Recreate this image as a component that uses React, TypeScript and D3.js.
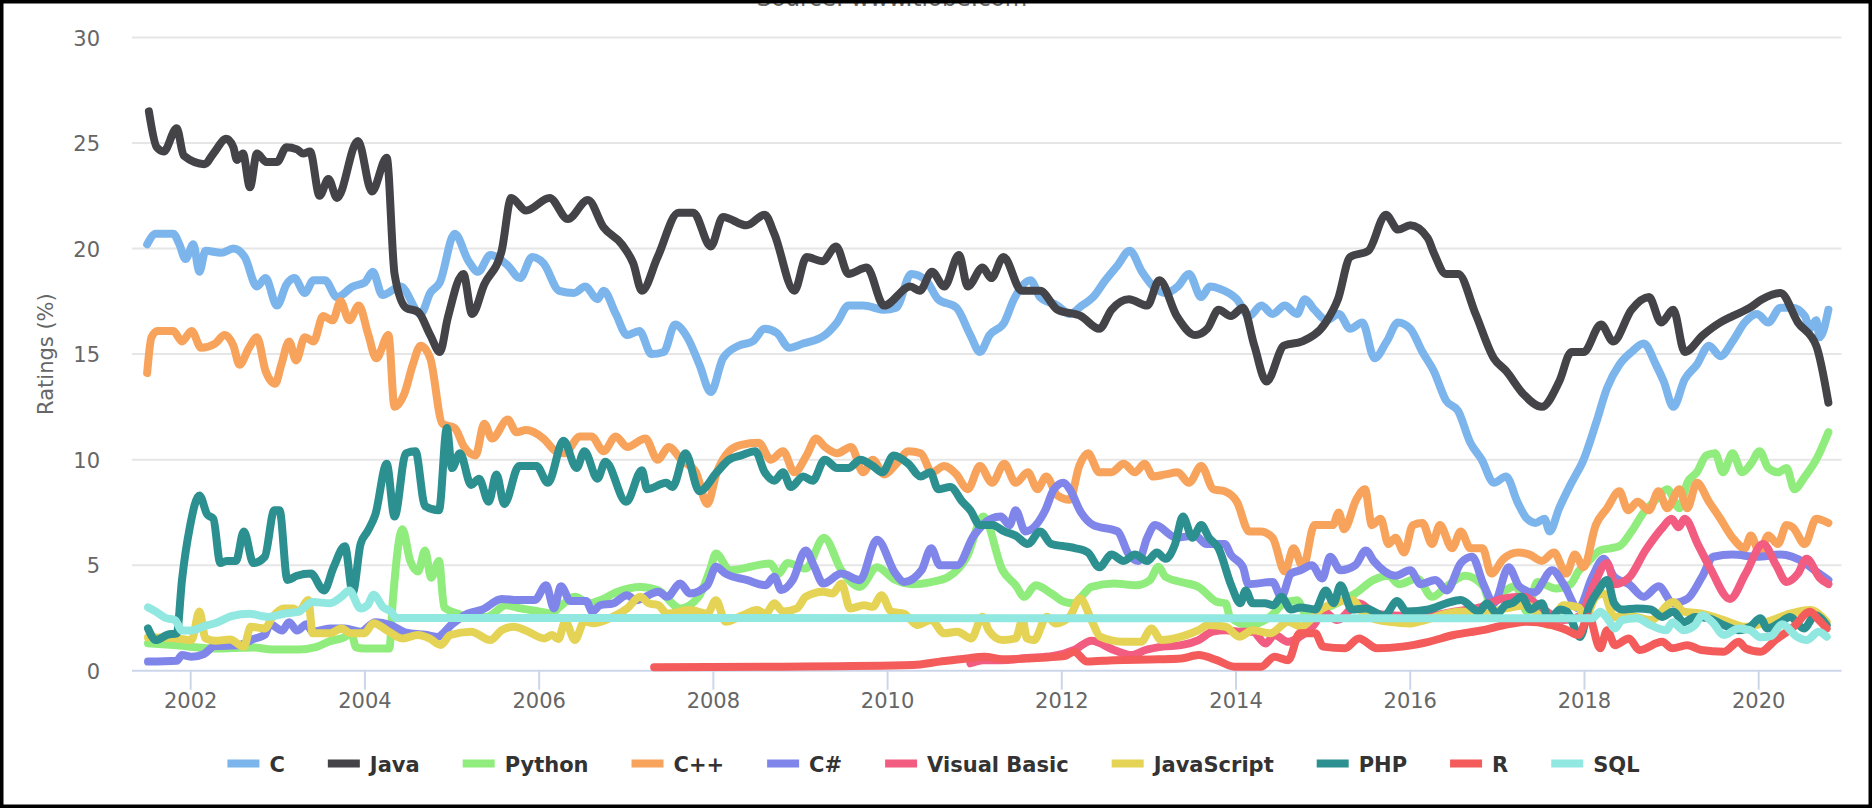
import * as d3 from 'd3';

type Pt = [number, number];

const WIDTH = 1872;
const HEIGHT = 808;

const seriesNames = ['C', 'Java', 'Python', 'C++', 'C#', 'Visual Basic', 'JavaScript', 'PHP', 'R', 'SQL'];
const seriesColors = ['#7cb5ec', '#434348', '#90ed7d', '#f7a35c', '#8085e9', '#f15c80', '#e4d354', '#2b908f', '#f45b5b', '#91e8e1'];
const yTicks = [0, 5, 10, 15, 20, 25, 30];
const xTicks = [2002, 2004, 2006, 2008, 2010, 2012, 2014, 2016, 2018, 2020];

// [year, rating %]
const cData: Pt[] = [
  [2001.5, 20.2], [2001.6, 20.7], [2001.8, 20.7], [2001.87, 20.2], [2001.94, 19.5], [2002.03, 20.2], [2002.1, 18.9], [2002.17, 19.9],
  [2002.35, 19.8], [2002.49, 20.0], [2002.62, 19.6], [2002.76, 18.2], [2002.86, 18.6], [2002.99, 17.3], [2003.1, 18.3], [2003.19, 18.6],
  [2003.31, 17.9], [2003.41, 18.5], [2003.54, 18.5], [2003.68, 17.7], [2003.86, 18.2], [2004.0, 18.4], [2004.09, 18.9], [2004.2, 17.8],
  [2004.41, 18.2], [2004.64, 16.9], [2004.75, 17.9], [2004.86, 18.4], [2005.03, 20.7], [2005.19, 19.4], [2005.3, 18.9], [2005.44, 19.7],
  [2005.64, 19.2], [2005.78, 18.6], [2005.92, 19.6], [2006.05, 19.3], [2006.23, 18.0], [2006.4, 17.9], [2006.53, 18.2], [2006.67, 17.6],
  [2006.74, 18.0], [2006.88, 16.9], [2007.01, 15.9], [2007.15, 16.1], [2007.29, 15.0], [2007.43, 15.1], [2007.56, 16.4], [2007.7, 15.8],
  [2007.84, 14.5], [2007.97, 13.2], [2008.11, 14.8], [2008.29, 15.4], [2008.45, 15.6], [2008.59, 16.2], [2008.73, 16.0], [2008.87, 15.3],
  [2009.03, 15.5], [2009.28, 15.9], [2009.42, 16.5], [2009.55, 17.3], [2009.72, 17.3], [2009.96, 17.1], [2010.1, 17.2], [2010.27, 18.8],
  [2010.44, 18.5], [2010.58, 17.6], [2010.79, 17.2], [2010.95, 15.9], [2011.06, 15.1], [2011.17, 15.9], [2011.34, 16.5], [2011.45, 17.6],
  [2011.64, 18.5], [2011.75, 17.7], [2011.95, 17.3], [2012.09, 16.9], [2012.23, 17.3], [2012.36, 17.7], [2012.5, 18.5], [2012.64, 19.2],
  [2012.78, 19.9], [2012.92, 18.9], [2013.05, 18.2], [2013.19, 17.9], [2013.33, 18.2], [2013.46, 18.8], [2013.6, 17.7], [2013.7, 18.2],
  [2013.81, 18.1], [2014.01, 17.6], [2014.15, 16.8], [2014.29, 17.3], [2014.42, 16.9], [2014.56, 17.3], [2014.7, 16.9], [2014.79, 17.6],
  [2014.9, 17.1], [2015.04, 16.6], [2015.18, 16.9], [2015.31, 16.2], [2015.45, 16.5], [2015.59, 14.8], [2015.73, 15.6], [2015.86, 16.5],
  [2016.0, 16.2], [2016.14, 15.1], [2016.27, 14.2], [2016.41, 12.8], [2016.55, 12.3], [2016.69, 10.8], [2016.82, 10.0], [2016.96, 8.9],
  [2017.1, 9.2], [2017.23, 8.0], [2017.34, 7.2], [2017.44, 7.0], [2017.54, 7.2], [2017.6, 6.6], [2017.71, 7.7], [2017.85, 8.9],
  [2017.99, 10.0], [2018.13, 11.7], [2018.26, 13.4], [2018.4, 14.5], [2018.54, 15.1], [2018.68, 15.5], [2018.82, 14.5], [2018.91, 13.7],
  [2019.02, 12.5], [2019.15, 13.8], [2019.29, 14.5], [2019.43, 15.4], [2019.56, 14.9], [2019.7, 15.6], [2019.84, 16.5], [2019.98, 16.9],
  [2020.11, 16.5], [2020.25, 17.2], [2020.39, 17.2], [2020.53, 16.8], [2020.59, 16.2], [2020.66, 16.6], [2020.7, 15.8], [2020.8, 17.1],
];

const javaData: Pt[] = [
  [2001.52, 26.5], [2001.61, 24.8], [2001.69, 24.6], [2001.84, 25.7], [2001.92, 24.4], [2002.16, 24.0], [2002.26, 24.5], [2002.41, 25.2],
  [2002.49, 24.8], [2002.53, 24.2], [2002.6, 24.5], [2002.68, 22.9], [2002.76, 24.5], [2002.87, 24.1], [2002.99, 24.1], [2003.1, 24.8],
  [2003.22, 24.7], [2003.29, 24.5], [2003.37, 24.6], [2003.48, 22.5], [2003.58, 23.3], [2003.68, 22.4], [2003.92, 25.1], [2004.08, 22.7],
  [2004.25, 24.3], [2004.34, 18.8], [2004.47, 17.2], [2004.61, 17.0], [2004.75, 15.9], [2004.86, 15.1], [2004.95, 16.7], [2005.13, 18.8],
  [2005.23, 16.9], [2005.37, 18.3], [2005.57, 19.9], [2005.68, 22.4], [2005.85, 21.8], [2006.12, 22.4], [2006.33, 21.4], [2006.56, 22.3],
  [2006.74, 21.0], [2006.95, 20.2], [2007.08, 19.3], [2007.18, 18.0], [2007.36, 19.6], [2007.6, 21.7], [2007.77, 21.7], [2007.97, 20.1],
  [2008.11, 21.5], [2008.38, 21.1], [2008.59, 21.6], [2008.7, 20.7], [2008.93, 18.0], [2009.07, 19.6], [2009.25, 19.4], [2009.41, 20.1],
  [2009.55, 18.8], [2009.76, 19.1], [2009.96, 17.3], [2010.26, 18.2], [2010.37, 18.0], [2010.51, 18.9], [2010.65, 18.2], [2010.82, 19.7],
  [2010.92, 18.2], [2011.09, 19.1], [2011.19, 18.6], [2011.33, 19.6], [2011.54, 18.0], [2011.75, 18.0], [2011.95, 17.1], [2012.22, 16.8],
  [2012.43, 16.2], [2012.57, 17.1], [2012.77, 17.6], [2012.98, 17.3], [2013.12, 18.5], [2013.32, 16.8], [2013.53, 15.9], [2013.67, 16.2],
  [2013.8, 17.1], [2013.94, 16.8], [2014.08, 17.2], [2014.21, 15.4], [2014.35, 13.7], [2014.55, 15.4], [2014.76, 15.6], [2015.03, 16.5],
  [2015.17, 17.6], [2015.31, 19.6], [2015.52, 19.9], [2015.72, 21.6], [2015.86, 20.9], [2016.0, 21.1], [2016.2, 20.5], [2016.27, 19.8],
  [2016.41, 18.8], [2016.55, 18.8], [2016.75, 16.9], [2016.96, 14.8], [2017.1, 14.2], [2017.3, 13.1], [2017.51, 12.5], [2017.71, 13.7],
  [2017.85, 15.1], [2017.99, 15.1], [2018.19, 16.4], [2018.33, 15.6], [2018.54, 17.1], [2018.74, 17.7], [2018.88, 16.5], [2019.02, 17.1],
  [2019.15, 15.1], [2019.36, 15.9], [2019.56, 16.5], [2019.7, 16.8], [2019.9, 17.2], [2020.04, 17.6], [2020.25, 17.9], [2020.45, 16.5],
  [2020.66, 15.4], [2020.8, 12.7],
];

const pythonData: Pt[] = [
  [2001.51, 1.3], [2001.84, 1.2], [2002.28, 1.05], [2002.72, 1.1], [2002.94, 1.0], [2003.24, 1.0], [2003.42, 1.1], [2003.6, 1.4],
  [2003.77, 1.6], [2003.84, 1.8], [2003.9, 1.1], [2003.99, 1.05], [2004.28, 1.05], [2004.32, 3.3], [2004.43, 6.7], [2004.52, 5.2],
  [2004.61, 4.7], [2004.69, 5.7], [2004.76, 4.4], [2004.85, 5.2], [2004.91, 3.0], [2005.07, 2.7], [2005.18, 2.55], [2005.4, 2.55],
  [2005.62, 3.1], [2005.79, 2.95], [2006.01, 2.8], [2006.14, 2.7], [2006.23, 3.0], [2006.41, 3.5], [2006.58, 3.2], [2006.7, 3.34],
  [2006.9, 3.74], [2007.16, 3.97], [2007.37, 3.8], [2007.62, 2.95], [2007.83, 3.5], [2007.96, 4.76], [2008.03, 5.55], [2008.19, 4.76],
  [2008.65, 5.08], [2008.75, 4.6], [2008.85, 5.1], [2009.06, 4.84], [2009.27, 6.3], [2009.47, 4.76], [2009.68, 3.97], [2009.88, 4.9],
  [2010.09, 4.3], [2010.29, 4.1], [2010.5, 4.2], [2010.7, 4.45], [2010.91, 5.4], [2011.1, 7.3], [2011.32, 4.76], [2011.47, 4.05],
  [2011.57, 3.5], [2011.7, 4.05], [2011.88, 3.66], [2012.03, 3.26], [2012.14, 3.19], [2012.24, 3.58], [2012.34, 3.97], [2012.6, 4.13],
  [2012.85, 4.05], [2013.01, 4.29], [2013.11, 4.92], [2013.19, 4.45], [2013.37, 4.2], [2013.57, 3.97], [2013.78, 3.26], [2013.88, 3.19],
  [2013.93, 2.56], [2014.14, 2.16], [2014.39, 2.56], [2014.55, 3.19], [2014.7, 3.34], [2014.82, 2.55], [2015.0, 2.9], [2015.37, 3.66],
  [2015.58, 4.3], [2015.75, 4.5], [2015.87, 4.1], [2016.08, 4.37], [2016.25, 3.5], [2016.42, 4.0], [2016.63, 4.5], [2016.84, 4.0],
  [2016.92, 3.2], [2017.09, 3.8], [2017.21, 4.0], [2017.34, 2.8], [2017.46, 4.2], [2017.67, 3.9], [2017.84, 4.1], [2017.93, 4.7],
  [2018.05, 5.2], [2018.18, 5.7], [2018.3, 5.8], [2018.4, 5.9], [2018.54, 6.6], [2018.68, 7.5], [2018.82, 8.1], [2018.95, 8.6],
  [2019.09, 7.7], [2019.18, 8.9], [2019.29, 9.4], [2019.4, 10.2], [2019.5, 10.3], [2019.59, 9.4], [2019.7, 10.3], [2019.81, 9.4],
  [2019.91, 9.8], [2020.01, 10.4], [2020.11, 9.6], [2020.22, 9.4], [2020.32, 9.6], [2020.41, 8.6], [2020.53, 9.2], [2020.66, 10.0],
  [2020.8, 11.3],
];

const cppData: Pt[] = [
  [2001.5, 14.1], [2001.55, 15.8], [2001.62, 16.1], [2001.8, 16.1], [2001.9, 15.6], [2002.01, 16.1], [2002.12, 15.3], [2002.28, 15.5],
  [2002.39, 15.9], [2002.49, 15.4], [2002.56, 14.5], [2002.67, 15.3], [2002.76, 15.8], [2002.86, 14.2], [2002.97, 13.6], [2003.04, 14.5],
  [2003.13, 15.6], [2003.21, 14.7], [2003.31, 15.8], [2003.41, 15.6], [2003.52, 16.8], [2003.63, 16.6], [2003.72, 17.5], [2003.82, 16.6],
  [2003.93, 17.3], [2004.04, 15.9], [2004.13, 14.8], [2004.27, 15.9], [2004.34, 12.5], [2004.45, 13.1], [2004.55, 14.5], [2004.64, 15.4],
  [2004.75, 14.8], [2004.89, 11.7], [2005.03, 11.5], [2005.14, 10.6], [2005.27, 10.2], [2005.37, 11.7], [2005.46, 11.0], [2005.64, 11.9],
  [2005.74, 11.3], [2005.85, 11.4], [2006.05, 11.0], [2006.19, 10.4], [2006.29, 10.3], [2006.47, 11.1], [2006.6, 11.1], [2006.74, 10.4],
  [2006.88, 11.1], [2007.01, 10.6], [2007.22, 11.0], [2007.36, 10.0], [2007.49, 10.6], [2007.63, 10.0], [2007.8, 9.4], [2007.93, 7.9],
  [2008.04, 9.4], [2008.18, 10.4], [2008.32, 10.7], [2008.52, 10.8], [2008.66, 10.0], [2008.8, 10.4], [2008.93, 9.4], [2009.07, 10.2],
  [2009.18, 11.0], [2009.28, 10.6], [2009.42, 10.3], [2009.58, 10.6], [2009.72, 9.4], [2009.83, 10.0], [2009.96, 9.3], [2010.1, 9.8],
  [2010.24, 10.4], [2010.38, 10.3], [2010.51, 9.4], [2010.65, 9.7], [2010.79, 9.3], [2010.92, 8.6], [2011.06, 9.7], [2011.2, 8.9],
  [2011.34, 9.8], [2011.47, 8.9], [2011.61, 9.4], [2011.72, 8.6], [2011.82, 9.2], [2011.95, 8.3], [2012.09, 8.1], [2012.2, 9.7],
  [2012.3, 10.3], [2012.43, 9.4], [2012.57, 9.4], [2012.71, 9.8], [2012.84, 9.4], [2012.95, 9.8], [2013.05, 9.2], [2013.19, 9.3],
  [2013.33, 9.4], [2013.46, 8.9], [2013.6, 9.7], [2013.74, 8.6], [2013.87, 8.5], [2014.01, 8.0], [2014.15, 6.6], [2014.28, 6.6],
  [2014.42, 6.3], [2014.56, 4.7], [2014.66, 5.8], [2014.77, 4.9], [2014.9, 6.9], [2015.11, 6.9], [2015.18, 7.5], [2015.24, 6.7],
  [2015.38, 8.1], [2015.48, 8.6], [2015.56, 6.9], [2015.66, 7.2], [2015.75, 6.0], [2015.83, 6.3], [2015.93, 5.6], [2016.03, 6.9],
  [2016.14, 7.0], [2016.25, 6.0], [2016.34, 6.9], [2016.48, 5.8], [2016.58, 6.6], [2016.69, 5.8], [2016.83, 5.8], [2016.93, 4.6],
  [2017.07, 5.3], [2017.24, 5.6], [2017.37, 5.5], [2017.51, 5.2], [2017.65, 5.6], [2017.79, 4.6], [2017.89, 5.5], [2017.99, 4.9],
  [2018.13, 6.9], [2018.26, 7.7], [2018.4, 8.5], [2018.5, 7.6], [2018.61, 8.0], [2018.74, 7.6], [2018.85, 8.5], [2018.95, 7.7],
  [2019.09, 8.6], [2019.18, 7.7], [2019.29, 8.9], [2019.43, 8.0], [2019.56, 7.2], [2019.7, 6.3], [2019.84, 5.8], [2019.91, 6.4],
  [2020.01, 5.6], [2020.11, 6.4], [2020.22, 6.0], [2020.32, 6.9], [2020.39, 6.8], [2020.53, 6.0], [2020.66, 7.2], [2020.8, 7.0],
];

const csharpData: Pt[] = [
  [2001.51, 0.43], [2001.84, 0.47], [2001.9, 0.74], [2002.01, 0.66], [2002.15, 0.79], [2002.28, 1.17], [2002.54, 1.2], [2002.72, 1.5],
  [2002.85, 1.7], [2002.91, 2.2], [2003.05, 1.9], [2003.13, 2.3], [2003.22, 1.9], [2003.33, 2.2], [2003.4, 1.85], [2003.6, 2.0],
  [2003.77, 2.0], [2003.95, 1.85], [2004.12, 2.3], [2004.3, 2.15], [2004.47, 1.8], [2004.69, 1.7], [2004.83, 1.6], [2005.0, 2.2],
  [2005.18, 2.7], [2005.35, 2.9], [2005.57, 3.4], [2005.75, 3.35], [2005.95, 3.35], [2006.08, 4.05], [2006.17, 2.95], [2006.25, 4.0],
  [2006.36, 3.3], [2006.54, 3.3], [2006.61, 2.8], [2006.7, 3.1], [2006.85, 3.19], [2007.01, 3.58], [2007.11, 3.34], [2007.37, 3.74],
  [2007.47, 3.5], [2007.62, 4.13], [2007.73, 3.66], [2007.93, 4.05], [2008.03, 4.92], [2008.14, 4.6], [2008.39, 4.29], [2008.6, 4.05],
  [2008.7, 4.45], [2008.78, 3.82], [2008.91, 4.29], [2009.06, 5.7], [2009.16, 4.92], [2009.26, 4.13], [2009.47, 4.6], [2009.68, 4.29],
  [2009.88, 6.2], [2010.09, 4.6], [2010.19, 4.2], [2010.39, 4.76], [2010.5, 5.8], [2010.6, 5.0], [2010.8, 5.0], [2010.99, 6.4],
  [2011.19, 7.2], [2011.3, 7.3], [2011.4, 6.9], [2011.47, 7.6], [2011.58, 6.6], [2011.81, 7.6], [2011.91, 8.6], [2012.02, 8.9],
  [2012.09, 8.6], [2012.22, 7.5], [2012.36, 6.9], [2012.64, 6.6], [2012.77, 5.5], [2012.88, 5.2], [2012.98, 6.3], [2013.07, 6.9],
  [2013.32, 6.3], [2013.53, 6.4], [2013.66, 6.0], [2013.87, 6.0], [2013.94, 5.5], [2014.08, 4.9], [2014.14, 4.1], [2014.42, 4.2],
  [2014.52, 3.5], [2014.63, 4.6], [2014.74, 4.76], [2014.87, 5.0], [2014.99, 4.37], [2015.08, 5.4], [2015.2, 4.76], [2015.37, 5.0],
  [2015.49, 5.7], [2015.58, 5.2], [2015.83, 4.5], [2016.0, 4.76], [2016.12, 4.1], [2016.29, 4.3], [2016.42, 3.8], [2016.58, 5.1],
  [2016.71, 5.4], [2016.84, 4.1], [2016.96, 3.2], [2017.13, 4.9], [2017.25, 4.0], [2017.42, 3.7], [2017.63, 4.76], [2017.76, 4.1],
  [2017.93, 2.95], [2018.09, 4.45], [2018.22, 5.3], [2018.34, 4.45], [2018.51, 4.1], [2018.68, 3.5], [2018.85, 4.0], [2019.02, 3.2],
  [2019.18, 3.4], [2019.35, 4.45], [2019.48, 5.4], [2019.7, 5.5], [2019.98, 5.4], [2020.25, 5.5], [2020.53, 5.1], [2020.66, 4.7],
  [2020.8, 4.3],
];

const vbData: Pt[] = [
  [2010.95, 0.35], [2011.1, 0.5], [2011.3, 0.5], [2011.6, 0.6], [2011.9, 0.7], [2012.15, 1.0], [2012.34, 1.42], [2012.6, 0.98],
  [2012.8, 0.74], [2012.96, 0.98], [2013.16, 1.14], [2013.37, 1.21], [2013.57, 1.45], [2013.73, 1.85], [2013.88, 1.92], [2014.04, 1.85],
  [2014.19, 1.85], [2014.34, 1.29], [2014.44, 1.69], [2014.6, 1.37], [2014.73, 1.6], [2014.9, 2.2], [2015.0, 2.8], [2015.16, 2.4],
  [2015.41, 3.2], [2015.6, 2.7], [2015.9, 2.6], [2016.2, 2.6], [2016.5, 2.8], [2016.8, 3.0], [2017.05, 3.4], [2017.3, 3.5],
  [2017.5, 3.0], [2017.75, 2.4], [2017.95, 2.6], [2018.1, 4.0], [2018.26, 5.1], [2018.35, 4.1], [2018.51, 4.4], [2018.7, 5.7],
  [2018.9, 6.8], [2019.0, 7.2], [2019.08, 6.8], [2019.15, 7.2], [2019.3, 6.0], [2019.45, 4.8], [2019.67, 3.4], [2019.85, 4.6],
  [2020.05, 6.0], [2020.2, 5.0], [2020.32, 4.2], [2020.45, 4.6], [2020.55, 5.3], [2020.7, 4.4], [2020.8, 4.1],
];

const jsData: Pt[] = [
  [2001.51, 1.58], [2001.84, 1.53], [2002.01, 1.45], [2002.1, 2.8], [2002.17, 1.53], [2002.28, 1.42], [2002.45, 1.48], [2002.61, 1.14],
  [2002.69, 2.08], [2002.85, 2.0], [2002.94, 2.55], [2003.07, 2.95], [2003.18, 2.95], [2003.24, 2.8], [2003.35, 3.35], [2003.4, 1.77],
  [2003.6, 1.77], [2003.73, 2.0], [2003.84, 1.77], [2003.99, 1.77], [2004.1, 2.25], [2004.25, 1.92], [2004.43, 1.53], [2004.61, 1.69],
  [2004.74, 1.53], [2004.87, 1.22], [2004.98, 1.69], [2005.22, 1.85], [2005.44, 1.45], [2005.57, 1.92], [2005.71, 2.08], [2005.84, 1.92],
  [2006.06, 1.53], [2006.15, 1.69], [2006.22, 1.5], [2006.3, 2.33], [2006.41, 1.45], [2006.52, 2.33], [2006.63, 2.25], [2006.85, 2.56],
  [2007.01, 2.95], [2007.16, 3.5], [2007.26, 3.19], [2007.37, 3.1], [2007.47, 2.7], [2007.73, 2.87], [2007.93, 2.7], [2008.03, 3.34],
  [2008.14, 2.32], [2008.34, 2.63], [2008.5, 2.87], [2008.6, 2.7], [2008.7, 3.19], [2008.8, 2.8], [2008.96, 2.95], [2009.06, 3.5],
  [2009.26, 3.74], [2009.37, 3.66], [2009.47, 4.13], [2009.57, 2.95], [2009.73, 3.1], [2009.83, 3.03], [2009.93, 3.58], [2010.04, 2.8],
  [2010.19, 2.7], [2010.34, 2.16], [2010.5, 2.4], [2010.65, 1.77], [2010.8, 1.85], [2010.96, 1.53], [2011.09, 2.56], [2011.16, 1.92],
  [2011.32, 1.45], [2011.47, 1.53], [2011.55, 2.4], [2011.6, 1.53], [2011.68, 1.45], [2011.83, 2.56], [2011.93, 2.24], [2012.09, 2.56],
  [2012.21, 3.42], [2012.34, 2.4], [2012.44, 1.61], [2012.7, 1.37], [2012.91, 1.37], [2013.03, 2.0], [2013.14, 1.45], [2013.37, 1.61],
  [2013.57, 1.92], [2013.68, 2.16], [2013.88, 2.08], [2014.04, 1.61], [2014.19, 1.92], [2014.39, 1.77], [2014.6, 2.32], [2014.74, 2.1],
  [2014.99, 2.95], [2015.33, 3.35], [2015.49, 2.6], [2015.79, 2.3], [2016.0, 2.24], [2016.17, 2.4], [2016.42, 2.7], [2016.58, 2.8],
  [2016.84, 2.7], [2017.09, 2.95], [2017.34, 3.1], [2017.59, 2.16], [2017.76, 3.1], [2017.93, 3.0], [2018.01, 2.55], [2018.13, 3.5],
  [2018.22, 3.66], [2018.34, 2.55], [2018.51, 2.6], [2018.76, 2.4], [2019.02, 3.26], [2019.14, 2.8], [2019.35, 2.7], [2019.6, 2.4],
  [2019.85, 2.08], [2020.1, 2.32], [2020.36, 2.7], [2020.59, 2.87], [2020.78, 2.32],
];

const phpData: Pt[] = [
  [2001.51, 2.0], [2001.6, 1.45], [2001.73, 1.7], [2001.84, 1.77], [2001.9, 4.3], [2001.99, 6.8], [2002.1, 8.3], [2002.19, 7.4],
  [2002.26, 7.2], [2002.34, 5.1], [2002.41, 5.2], [2002.52, 5.2], [2002.61, 6.6], [2002.72, 5.1], [2002.85, 5.4], [2002.96, 7.6],
  [2003.02, 7.6], [2003.11, 4.3], [2003.22, 4.5], [2003.38, 4.6], [2003.53, 3.8], [2003.64, 4.9], [2003.77, 5.9], [2003.86, 3.7],
  [2003.95, 6.0], [2004.03, 6.6], [2004.12, 7.4], [2004.25, 9.8], [2004.34, 7.3], [2004.47, 10.3], [2004.58, 10.4], [2004.69, 7.8],
  [2004.85, 7.6], [2004.94, 11.5], [2005.0, 9.6], [2005.09, 10.3], [2005.22, 8.8], [2005.31, 9.1], [2005.42, 8.0], [2005.51, 9.3],
  [2005.6, 7.9], [2005.77, 9.7], [2005.97, 9.7], [2006.1, 8.9], [2006.28, 10.9], [2006.43, 9.6], [2006.52, 10.4], [2006.67, 9.1],
  [2006.76, 9.9], [2007.0, 8.0], [2007.18, 9.5], [2007.24, 8.6], [2007.46, 8.9], [2007.53, 8.7], [2007.68, 10.3], [2007.84, 8.5],
  [2008.04, 9.4], [2008.18, 10.0], [2008.32, 10.2], [2008.48, 10.4], [2008.59, 9.4], [2008.7, 9.0], [2008.8, 9.4], [2008.89, 8.7],
  [2009.03, 9.2], [2009.14, 9.0], [2009.28, 10.0], [2009.42, 9.6], [2009.55, 9.6], [2009.69, 10.0], [2009.83, 9.7], [2009.94, 9.4],
  [2010.07, 10.2], [2010.24, 9.8], [2010.38, 9.2], [2010.49, 9.4], [2010.58, 8.6], [2010.72, 8.7], [2010.86, 8.0], [2010.95, 7.6],
  [2011.06, 6.9], [2011.2, 6.9], [2011.34, 6.6], [2011.47, 6.4], [2011.61, 6.0], [2011.75, 6.6], [2011.88, 6.0], [2012.02, 5.9],
  [2012.16, 5.8], [2012.3, 5.6], [2012.43, 4.9], [2012.57, 5.5], [2012.71, 5.2], [2012.84, 5.5], [2012.98, 5.2], [2013.09, 5.6],
  [2013.19, 5.3], [2013.3, 6.0], [2013.39, 7.3], [2013.5, 6.3], [2013.6, 6.9], [2013.69, 6.3], [2013.8, 5.8], [2013.94, 4.1],
  [2014.05, 3.2], [2014.11, 3.8], [2014.19, 3.2], [2014.33, 3.2], [2014.43, 3.1], [2014.52, 3.5], [2014.63, 2.9], [2014.74, 3.0],
  [2014.91, 2.9], [2015.03, 3.8], [2015.12, 3.2], [2015.2, 4.05], [2015.33, 2.9], [2015.49, 2.95], [2015.7, 2.6], [2015.85, 3.3],
  [2015.96, 2.8], [2016.21, 2.9], [2016.42, 3.2], [2016.58, 3.35], [2016.79, 2.8], [2016.88, 3.2], [2017.0, 2.7], [2017.09, 3.1],
  [2017.17, 3.2], [2017.28, 3.5], [2017.38, 2.9], [2017.51, 3.2], [2017.59, 2.4], [2017.72, 2.9], [2017.8, 2.8], [2017.95, 1.6],
  [2018.05, 3.0], [2018.16, 3.8], [2018.26, 4.3], [2018.34, 3.2], [2018.43, 2.9], [2018.6, 2.95], [2018.76, 2.9], [2018.89, 2.55],
  [2019.02, 2.8], [2019.14, 2.3], [2019.27, 2.55], [2019.43, 2.48], [2019.6, 2.16], [2019.77, 1.92], [2019.9, 2.08], [2020.02, 2.48],
  [2020.1, 2.0], [2020.23, 2.24], [2020.36, 2.55], [2020.52, 2.0], [2020.65, 2.63], [2020.78, 2.16],
];

const rData: Pt[] = [
  [2007.32, 0.16], [2008.75, 0.19], [2010.29, 0.27], [2010.6, 0.43], [2010.91, 0.58], [2011.11, 0.66], [2011.32, 0.54], [2011.62, 0.58],
  [2011.83, 0.63], [2012.03, 0.69], [2012.14, 0.9], [2012.29, 0.43], [2012.6, 0.5], [2013.11, 0.54], [2013.37, 0.58], [2013.57, 0.74],
  [2013.78, 0.5], [2013.98, 0.19], [2014.29, 0.19], [2014.44, 0.66], [2014.6, 0.5], [2014.73, 1.77], [2014.91, 1.77], [2015.0, 1.14],
  [2015.25, 1.06], [2015.41, 1.53], [2015.62, 1.06], [2015.91, 1.14], [2016.21, 1.37], [2016.5, 1.69], [2016.83, 1.92], [2017.08, 2.16],
  [2017.34, 2.32], [2017.59, 2.2], [2017.8, 1.92], [2017.93, 1.69], [2018.05, 2.56], [2018.18, 1.06], [2018.26, 1.92], [2018.35, 1.21],
  [2018.51, 1.53], [2018.63, 0.98], [2018.89, 1.37], [2019.01, 1.06], [2019.18, 1.21], [2019.34, 0.98], [2019.6, 0.9], [2019.77, 1.37],
  [2019.85, 1.06], [2020.02, 0.9], [2020.19, 1.45], [2020.4, 2.08], [2020.59, 2.79], [2020.69, 2.4], [2020.78, 2.0],
];

const sqlData: Pt[] = [
  [2001.51, 3.0], [2001.6, 2.8], [2001.71, 2.5], [2001.82, 2.4], [2001.9, 1.9], [2002.01, 1.9], [2002.15, 2.1], [2002.28, 2.25],
  [2002.48, 2.6], [2002.67, 2.7], [2002.89, 2.55], [2003.07, 2.7], [2003.24, 2.8], [2003.4, 3.25], [2003.6, 3.2], [2003.73, 3.5],
  [2003.82, 3.8], [2003.95, 2.95], [2004.03, 3.1], [2004.1, 3.6], [2004.21, 3.0], [2004.3, 2.8], [2004.36, 2.5], [2018.09, 2.48],
  [2018.18, 2.79], [2018.26, 2.5], [2018.35, 2.0], [2018.43, 2.4], [2018.6, 2.48], [2018.76, 2.16], [2018.94, 1.92], [2019.01, 2.3],
  [2019.14, 1.92], [2019.27, 2.16], [2019.35, 2.63], [2019.47, 2.3], [2019.6, 1.69], [2019.77, 2.0], [2019.9, 1.92], [2020.02, 1.58],
  [2020.14, 1.64], [2020.27, 2.2], [2020.44, 1.61], [2020.55, 1.45], [2020.69, 1.85], [2020.78, 1.61],
];

const seriesData = [cData, javaData, pythonData, cppData, csharpData, vbData, jsData, phpData, rData, sqlData];

const FONT = "'DejaVu Sans', sans-serif";

function measure(text: string, font: string) {
  const ctx = document.createElement('canvas').getContext('2d');
  if (!ctx) return text.length * 12;
  ctx.font = font;
  return ctx.measureText(text).width;
}

export default function App() {
  const plotLeft = 132;
  const plotRight = 1841.5;
  const x = d3.scaleLinear().domain([2002, 2020]).range([190.7, 1758.7]);
  const y = d3.scaleLinear().domain([0, 30]).range([670.7, 37.5]);

  const line = d3
    .line<Pt>()
    .x((d) => x(d[0]))
    .y((d) => y(d[1]))
    .curve(d3.curveMonotoneX);

  // legend layout
  const symW = 32;
  const symGap = 10;
  const itemGap = 43;
  const legendFont = `bold 21px 'DejaVu Sans'`;
  const textW = seriesNames.map((n) => measure(n, legendFont));
  const itemW = textW.map((w) => symW + symGap + w);
  const totalW = d3.sum(itemW) + itemGap * (seriesNames.length - 1);
  let cursor = 933.5 - totalW / 2;
  const legendX = itemW.map((w) => {
    const pos = cursor;
    cursor += w + itemGap;
    return pos;
  });
  const legendY = 763.5;

  return (
    <svg
      width={WIDTH}
      height={HEIGHT}
      viewBox={`0 0 ${WIDTH} ${HEIGHT}`}
      style={{ position: 'absolute', left: 0, top: 0, background: '#fff', display: 'block' }}
      fontFamily={FONT}
    >
      <rect x={0} y={0} width={WIDTH} height={HEIGHT} fill="#fff" />

      {/* subtitle, cut by the top edge as in the source image */}
      <text x={892} y={6} textAnchor="middle" fontSize={23} fill="#666666">
        Source: www.tiobe.com
      </text>

      {/* grid + y labels */}
      {yTicks.map((t) => (
        <g key={t}>
          {t > 0 && (
            <line x1={plotLeft} x2={plotRight} y1={y(t)} y2={y(t)} stroke="#e6e6e6" strokeWidth={2} />
          )}
          <text x={100} y={y(t) + 8} textAnchor="end" fontSize={21} fill="#666666">
            {t}
          </text>
        </g>
      ))}

      <text
        transform={`translate(46,${(y(0) + y(30)) / 2}) rotate(-90)`}
        textAnchor="middle"
        dominantBaseline="central"
        fontSize={21}
        fill="#666666"
      >
        Ratings (%)
      </text>

      {/* x axis */}
      <line x1={plotLeft} x2={plotRight} y1={y(0)} y2={y(0)} stroke="#ccd6eb" strokeWidth={2} />
      {xTicks.map((t) => (
        <g key={t}>
          <line x1={x(t)} x2={x(t)} y1={y(0)} y2={y(0) + 19} stroke="#ccd6eb" strokeWidth={2} />
          <text x={x(t)} y={708} textAnchor="middle" fontSize={21} fill="#666666">
            {t}
          </text>
        </g>
      ))}

      {/* series */}
      {seriesData.map((data, i) => (
        <path
          key={seriesNames[i]}
          d={line(data) ?? ''}
          fill="none"
          stroke={seriesColors[i]}
          strokeWidth={8}
          strokeLinecap="round"
          strokeLinejoin="round"
        />
      ))}

      {/* legend */}
      {seriesNames.map((n, i) => (
        <g key={n}>
          <rect x={legendX[i]} y={legendY - 4} width={symW} height={8} fill={seriesColors[i]} />
          <text
            x={legendX[i] + symW + symGap}
            y={legendY + 8}
            fontSize={21}
            fontWeight="bold"
            fill="#333333"
          >
            {n}
          </text>
        </g>
      ))}

      {/* frame */}
      <rect x={0} y={0} width={WIDTH} height={HEIGHT} fill="none" stroke="#000" strokeWidth={7} />
    </svg>
  );
}
